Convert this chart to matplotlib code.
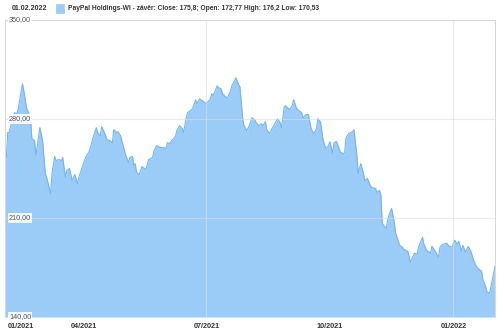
import datetime as dt
import matplotlib
matplotlib.use('Agg')
import matplotlib.pyplot as plt
import matplotlib.transforms as mtransforms
from matplotlib.patches import Rectangle

# ================= Data Section =================
start = dt.date(2021, 2, 1)
day_offsets = [
    0, 1, 2, 3, 5, 7, 9, 10, 13, 14, 16, 19, 20, 22, 23, 26, 28, 30, 31, 34,
    35, 37, 38, 40, 42, 43, 45, 46, 48, 50, 52, 54, 55, 57, 60, 63, 65, 66, 68, 69,
    71, 72, 74, 76, 78, 80, 81, 83, 84, 86, 88, 90, 92, 93, 95, 96, 97, 98, 100, 102,
    104, 105, 107, 110, 111, 113, 116, 118, 120, 121, 123, 124, 127, 128, 130, 132, 133, 135, 136, 139,
    140, 142, 143, 145, 147, 149, 150, 153, 154, 155, 157, 158, 159, 161, 162, 165, 166, 168, 169, 171,
    172, 173, 174, 175, 177, 178, 180, 182, 184, 186, 187, 189, 191, 192, 194, 195, 197, 199, 201, 203,
    205, 206, 208, 209, 212, 214, 215, 217, 218, 221, 222, 224, 226, 228, 230, 232, 233, 235, 237, 239,
    241, 242, 244, 245, 247, 248, 250, 252, 253, 254, 256, 259, 260, 261, 262, 263, 265, 267, 268, 270,
    272, 273, 276, 277, 279, 280, 281, 282, 284, 285, 286, 288, 290, 291, 294, 296, 297, 300, 302, 305,
    307, 308, 311, 312, 314, 317, 318, 320, 323, 324, 326, 329, 331, 333, 334, 335, 337, 338, 340, 341,
    343, 345, 347, 349, 351, 353, 355, 356, 358, 359, 361, 362, 364, 365,
]
closes = [
    250.6, 252.8, 270.4, 270.4, 277.4, 284.5, 283.8, 288.0, 304.9, 300.0, 288.0, 280.9, 266.1, 264.7, 254.2, 273.9, 264.7, 241.5, 238.7, 227.4,
    241.5, 253.5, 250.6, 251.3, 250.6, 252.8, 238.7, 243.6, 245.0, 236.5, 240.8, 234.4, 238.7, 244.5, 252.8, 257.7, 264.7, 268.3, 273.9, 270.4,
    268.3, 274.6, 270.4, 265.4, 264.7, 263.3, 272.5, 270.4, 271.1, 268.3, 261.2, 254.2, 249.2, 252.8, 253.5, 247.1, 248.5, 242.2, 240.8, 246.4,
    245.0, 244.3, 251.3, 252.8, 257.7, 261.2, 259.8, 259.8, 259.1, 263.3, 262.6, 264.7, 267.6, 271.8, 275.3, 273.2, 270.4, 280.9, 284.5, 286.6,
    288.0, 293.6, 290.8, 294.3, 292.9, 291.5, 290.8, 294.3, 297.9, 296.4, 300.7, 303.5, 302.1, 301.4, 297.9, 295.0, 295.7, 300.0, 303.5, 307.0,
    309.1, 307.0, 304.2, 302.8, 280.9, 275.3, 271.8, 275.3, 280.9, 279.5, 277.4, 275.3, 276.7, 275.3, 278.1, 272.5, 269.7, 273.2, 276.7, 280.2,
    277.4, 273.9, 288.7, 289.4, 286.6, 289.4, 293.6, 288.0, 286.6, 284.5, 280.9, 283.1, 283.1, 273.2, 269.7, 273.2, 280.2, 278.1, 264.7, 259.1,
    261.2, 264.0, 255.6, 263.3, 264.0, 261.2, 256.3, 255.6, 256.3, 266.8, 269.7, 271.1, 272.5, 263.3, 255.6, 241.5, 248.5, 241.5, 236.5, 238.0,
    233.0, 231.6, 230.9, 228.1, 229.5, 226.0, 206.2, 204.8, 202.7, 208.4, 211.9, 216.8, 206.9, 199.2, 190.7, 189.3, 187.9, 186.5, 178.8, 185.1,
    184.4, 189.3, 196.4, 191.4, 187.2, 185.1, 190.0, 187.2, 182.3, 189.3, 191.4, 192.1, 190.0, 189.3, 192.1, 194.3, 191.4, 193.6, 186.5, 190.7,
    185.8, 190.0, 186.5, 180.2, 175.9, 173.8, 172.4, 166.1, 161.8, 157.6, 156.9, 161.8, 171.0, 175.8,
]
dates = [start + dt.timedelta(days=d) for d in day_offsets]

y_ticks = [140, 210, 280, 350]
y_tick_labels = ['140,00', '210,00', '280,00', '350,00']
x_tick_dates = [dt.date(2021, 4, 1), dt.date(2021, 7, 1), dt.date(2021, 10, 1), dt.date(2022, 1, 1)]
x_tick_labels = ['04/2021', '07/2021', '10/2021', '01/2022']
x_grid_dates = [dt.date(2021, 7, 1), dt.date(2022, 1, 1)]

header_date = '01.02.2022'
header_text = 'PayPal Holdings-WI - závěr: Close: 175,8; Open: 172,77 High: 176,2 Low: 170,53'

# ================= Style =================
plt.rcParams['font.family'] = ['Liberation Sans', 'DejaVu Sans']
fill_color = '#9ACCF7'
line_color = '#74B4EE'
grid_color = '#DDDDDD'

fig = plt.figure(figsize=(5.0, 3.31), dpi=100)
ax = fig.add_axes([0.01, 1 - 317 / 331, 0.98, (317 - 20) / 331])

# ================= Plotting =================
ax.fill_between(dates, closes, y_ticks[0], color=fill_color, lw=0, zorder=1)
ax.plot(dates, closes, color=line_color, lw=0.8, zorder=2)

for y in y_ticks[1:3]:
    ax.axhline(y, color=grid_color, lw=0.8, alpha=0.6, zorder=3)
for d in x_grid_dates:
    ax.axvline(d, color=grid_color, lw=0.8, alpha=0.6, zorder=3)

ax.set_xlim(dates[0], dates[-1])
ax.set_ylim(y_ticks[0], y_ticks[-1])

for s in ax.spines.values():
    s.set_color('#D8D8D8')
    s.set_linewidth(0.8)
ax.spines['bottom'].set_visible(False)

ax.set_yticks([])
ax.set_xticks(x_tick_dates)
ax.set_xticklabels(x_tick_labels, fontsize=5.2, fontweight='bold', color='#333333')
ax.tick_params(axis='x', length=0, pad=4)

# first label sits at the left edge, level with the others
trans_x = mtransforms.offset_copy(ax.transAxes, fig=fig, x=0, y=-4, units='points')
ax.text(0.006, 0, '01/2021', transform=trans_x, ha='left', va='top',
        fontsize=5.2, fontweight='bold', color='#333333')

# y labels drawn inside the plot
trans_y = mtransforms.blended_transform_factory(ax.transAxes, ax.transData)
for y, lab in zip(y_ticks, y_tick_labels):
    ax.text(0.008, y, lab, transform=trans_y, ha='left', va='center',
            fontsize=5.2, color='#555555', zorder=5,
            bbox=dict(boxstyle='square,pad=0.15', fc='white', ec='none', alpha=0.9))

# ================= Header =================
fig.text(12 / 500, 1 - 9 / 331, header_date, ha='left', va='center',
         fontsize=5.0, fontweight='bold', color='#333333')
fig.patches.append(Rectangle((56 / 500, 1 - 13 / 331), 8 / 500, 9 / 331,
                             transform=fig.transFigure, fc=fill_color, ec='#8CC2F0', lw=0.4))
fig.text(68 / 500, 1 - 9 / 331, header_text, ha='left', va='center',
         fontsize=4.8, fontweight='bold', color='#333333')

fig.savefig('out.png', dpi=100)
